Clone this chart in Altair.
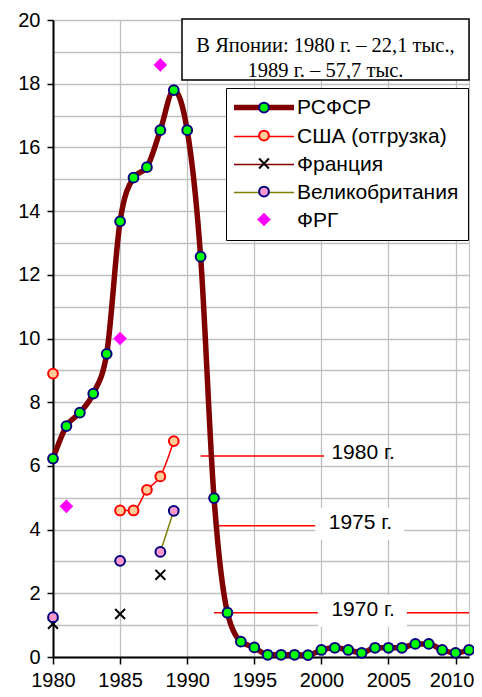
import altair as alt
import pandas as pd

# ---------------- data ----------------
series_names = ["РСФСР", "США (отгрузка)", "Франция", "Великобритания", "ФРГ"]

years_rsfsr = list(range(1980, 2012))
values_rsfsr = [6.23, 7.25, 7.67, 8.27, 9.52, 13.68, 15.05, 15.38, 16.54, 17.8,
                16.54, 12.57, 4.99, 1.39, 0.48, 0.30, 0.07, 0.07, 0.07, 0.06,
                0.22, 0.29, 0.22, 0.13, 0.29, 0.29, 0.29, 0.41, 0.41, 0.22,
                0.13, 0.22]
years_usa = [1980, 1985, 1986, 1987, 1988, 1989]
values_usa = [8.9, 4.6, 4.6, 5.25, 5.67, 6.78]
years_france = [1980, 1985, 1988]
values_france = [1.04, 1.35, 2.58]
years_uk = [1980, 1985, 1988, 1989]
values_uk = [1.25, 3.02, 3.3, 4.59]
years_frg = [1981, 1985, 1988]
values_frg = [4.73, 10.0, 18.59]

# first year of the connected part of each series
line_from_year = [1980, 1985, 1988, 1988, 1988]

ref_labels = ["1980 г.", "1975 г.", "1970 г."]
ref_levels = [6.31, 4.12, 1.39]
ref_start = [1991.0, 1992.0, 1992.0]
ref_end = [2000.2, 1999.8, 2011.0]

note_lines = ["В Японии: 1980 г. – 22,1 тыс.,", "1989 г. – 57,7 тыс."]

x_ticks = [1980, 1985, 1990, 1995, 2000, 2005, 2010]
y_grid = list(range(0, 21))

# ---------------- styles ----------------
line_colors = ["#800000", "#ff0000", "#800000", "#808000", "transparent"]
line_widths = [5.5, 1.5, 1.5, 1.5, 0]
outline_colors = ["#000080", "#ff0000", "#000000", "#000080", "#ff00ff"]
fill_colors = ["#00ff00", "#ffcc99", "transparent", "#ff99cc", "#ff00ff"]
CIRCLE = "M0.65,0A0.65,0.65 0 1,1 -0.65,0A0.65,0.65 0 1,1 0.65,0Z"
XMARK = "M-0.66,-0.66L0.66,0.66M0.66,-0.66L-0.66,0.66"
DIAMOND = "M0,-0.72L0.72,0L0,0.72L-0.72,0Z"
shapes = [CIRCLE, CIRCLE, XMARK, CIRCLE, DIAMOND]
SYM = 225  # symbol size shared by marks and legends

FONT = "Liberation Sans"

# ---------------- tables ----------------
rows = []
all_years = [years_rsfsr, years_usa, years_france, years_uk, years_frg]
all_values = [values_rsfsr, values_usa, values_france, values_uk, values_frg]
for k, (name, ys, vs, start) in enumerate(zip(series_names, all_years, all_values, line_from_year)):
    for y, v in zip(ys, vs):
        rows.append({"series": name, "order": k, "year": y, "value": v, "inline": y >= start})
pts_df = pd.DataFrame(rows)
line_df = pts_df[pts_df["inline"]].drop(columns="inline")
pts_df = pts_df.drop(columns="inline")

ref_df = pd.DataFrame({"label": ref_labels, "level": ref_levels,
                       "start": ref_start, "end": ref_end})
note_df = pd.DataFrame({"note": ["\n".join(note_lines)]})

# ---------------- encodings ----------------
x_scale = alt.Scale(domain=[1980, 2011], nice=False, zero=False)
y_scale = alt.Scale(domain=[0, 20], nice=False, zero=True)
x_axis = alt.Axis(values=x_ticks, format="d", title=None, grid=True,
                  labelFlush=False, tickSize=7, labelPadding=6,
                  labelOffset={"condition": {"test": "datum.value == 2010", "value": -4}, "value": 0})
y_axis = alt.Axis(values=y_grid, title=None, grid=True,
                  labelExpr="datum.value % 2 == 0 ? datum.label : ''",
                  tickOpacity={"condition": {"test": "datum.value % 2 == 0", "value": 1}, "value": 0},
                  tickSize=6, labelPadding=7)


def xenc(field):
    return alt.X(f"{field}:Q", scale=x_scale, axis=x_axis)


def yenc(field):
    return alt.Y(f"{field}:Q", scale=y_scale, axis=y_axis)


LEG_X, LEG_Y = 173, 68
common_leg = dict(orient="none", legendX=LEG_X, legendY=LEG_Y, title=None,
                  labelFont=FONT, labelFontSize=21, labelColor="black",
                  labelLimit=400, rowPadding=6, padding=9,
                  symbolSize=SYM, symbolOffset=18.5, labelOffset=22.5)

line_legend = alt.Legend(symbolType="M-4,0H4", fillColor="white",
                         strokeColor="black", **common_leg)
pt_legend = alt.Legend(symbolStrokeWidth=2, labelOpacity=0, **common_leg)
order_sort = alt.EncodingSortField(field="order", op="min")

# ---------------- layers ----------------
rules = alt.Chart(ref_df).mark_rule(color="#ff0000", strokeWidth=1.5).encode(
    x=xenc("start"), x2="end:Q", y=yenc("level"))

boxes = alt.Chart(ref_df).transform_filter(
    "datum.label != '1980 г.'"
).transform_calculate(lx="min(datum.end, 2000)").mark_point(
    shape="M-1,-0.36H1V0.36H-1Z", size=7921, filled=True, color="white",
    opacity=1, xOffset=41, yOffset=-2
).encode(x=xenc("lx"), y=yenc("level"))

labels = alt.Chart(ref_df).transform_calculate(lx="min(datum.end, 2000)").mark_text(
    font=FONT, fontSize=21, align="left", baseline="middle", dx=10, dy=-3, color="black"
).encode(x=xenc("lx"), y=yenc("level"), text="label:N")

lines = alt.Chart(line_df).mark_line(interpolate="monotone").encode(
    x=xenc("year"), y=yenc("value"),
    stroke=alt.Stroke("series:N", sort=order_sort,
                      scale=alt.Scale(type="ordinal", range=line_colors), legend=line_legend),
    strokeWidth=alt.StrokeWidth("series:N", sort=order_sort,
                                scale=alt.Scale(type="ordinal", range=line_widths), legend=line_legend),
)

points = alt.Chart(pts_df).mark_point(filled=False, opacity=1, size=SYM, strokeWidth=2).encode(
    x=xenc("year"), y=yenc("value"),
    color=alt.Color("series:N", scale=alt.Scale(domain=series_names, range=outline_colors), legend=pt_legend),
    fill=alt.Fill("series:N", scale=alt.Scale(domain=series_names, range=fill_colors), legend=pt_legend),
    shape=alt.Shape("series:N", scale=alt.Scale(domain=series_names, range=shapes), legend=pt_legend),
)

note_box = alt.Chart(note_df).mark_rect(fill="white", stroke="black", strokeWidth=1.5).encode(
    x=alt.value(129), x2=alt.value(416), y=alt.value(-1), y2=alt.value(60))
note_text = alt.Chart(note_df).mark_text(
    font="Liberation Serif", fontSize=20.5, lineBreak="\n", lineHeight=25,
    align="center", baseline="middle", color="black"
).encode(x=alt.value(272.5), y=alt.value(25.8), text="note:N")

chart = alt.layer(rules, boxes, labels, lines, points, note_box, note_text).properties(
    width=416, height=637,
    autosize=alt.AutoSizeParams(type="none"),
    padding={"left": 45, "top": 12, "right": 5, "bottom": 32},
).configure_view(stroke="#c0c0c0", strokeWidth=1).configure_axis(
    labelFont=FONT, labelFontSize=20, labelColor="black",
    gridColor="#c0c0c0", gridWidth=1.3,
    domainColor="black", domainWidth=2, tickColor="black", tickWidth=1.5,
)

chart.save("out.html", embed_options={"renderer": "svg", "actions": False})
